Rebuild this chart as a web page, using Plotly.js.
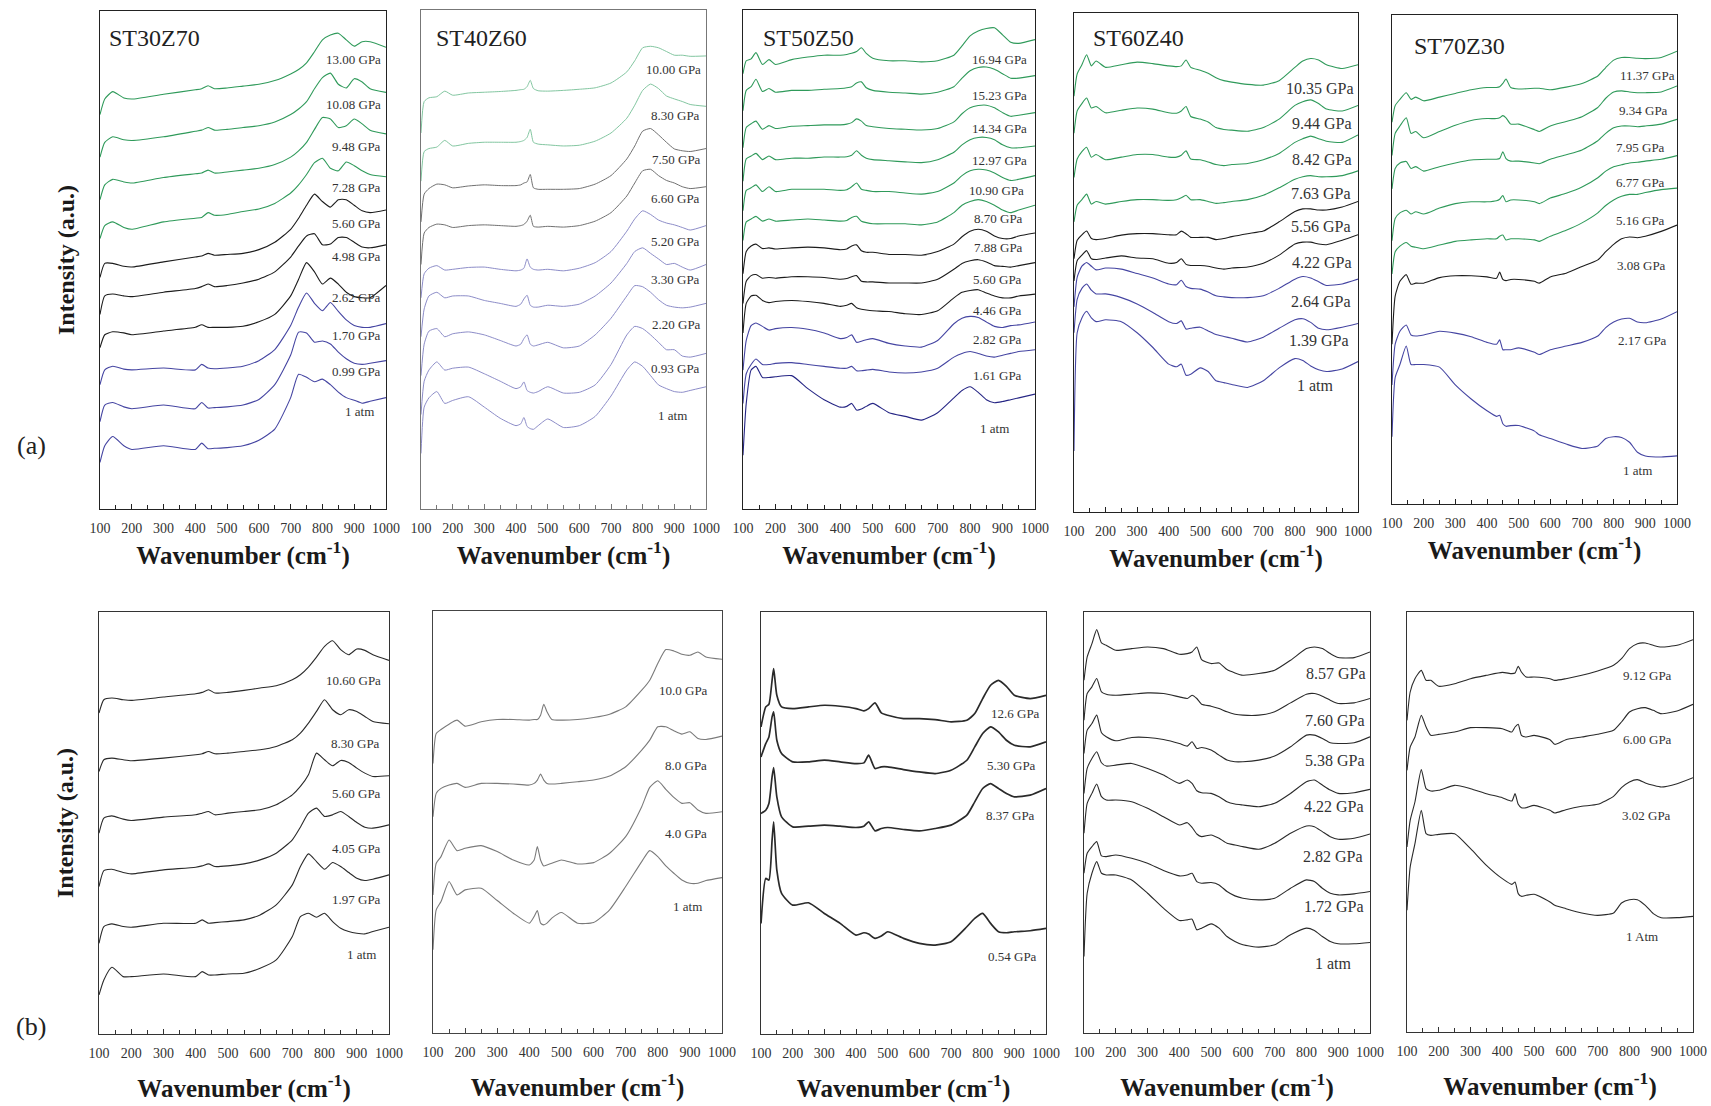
<!DOCTYPE html>
<html>
<head>
<meta charset="utf-8">
<script src="https://cdn.plot.ly/plotly-3.0.1.min.js"></script>
<style>html,body{margin:0;padding:0;background:#fff;}#chart{width:1711px;height:1106px;}</style>
</head>
<body>
<div id="chart"></div>
<script>
// ---------------- DATA (intensity in arbitrary units, stacked as in the figure) ----------------
// Row (a)
const samples = ['ST30Z70', 'ST40Z60', 'ST50Z50', 'ST60Z40', 'ST70Z30'];

const wnA1 = [100,115,140,175,200,300,400,420,440,460,500,550,600,650,700,725,750,775,800,825,850,875,900,925,950,1000];
const labelsA1 = ['13.00 GPa','10.08 GPa','9.48 GPa','7.28 GPa','5.60 GPa','4.98 GPa','2.62 GPa','1.70 GPa','0.99 GPa','1 atm'];
const seriesA1 = [
 [1066,1108,1128,1111,1108,1121,1133,1136,1144,1136,1138,1143,1148,1158,1176,1188,1206,1236,1268,1281,1286,1268,1251,1263,1263,1248],
 [951,991,1006,998,996,1006,1021,1024,1031,1024,1026,1031,1036,1046,1066,1081,1101,1136,1166,1178,1148,1138,1163,1154,1136,1126],
 [836,876,891,884,881,896,906,908,916,908,911,916,921,931,951,968,991,1026,1058,1054,1031,1036,1054,1041,1024,1014],
 [731,766,776,761,756,776,786,788,801,794,796,804,811,826,854,876,904,936,948,921,914,938,928,914,904,898],
 [626,664,664,656,654,668,681,684,691,686,688,691,701,721,756,786,821,851,831,816,836,836,821,806,801,808],
 [526,576,581,576,574,586,596,601,608,601,604,611,621,641,681,711,738,744,714,716,734,734,721,708,706,714],
 [436,471,479,476,471,481,491,498,491,491,491,494,506,526,576,621,666,641,608,624,608,586,574,571,571,604],
 [336,376,386,378,376,381,376,391,381,379,381,386,401,431,496,546,584,556,536,558,534,511,496,491,491,501],
 [236,281,288,276,271,281,271,288,273,274,276,281,296,336,416,478,476,451,454,446,424,406,394,391,394,401],
 [126,171,196,171,161,171,161,178,163,164,166,171,186,216,301,364,356,344,351,336,316,301,294,286,291,301]
];
const labelPosA1 = [990,990,990,990,990,990,990,990,990,967];
const labelValA1 = [1216,1094,981,869,773,683,573,468,371,264];
const colorsA1 = ['g','g','g','g','k','k','k','b','b','b'];

const wnA2 = [100,110,125,150,175,200,250,300,350,400,415,425,435,445,455,470,500,550,600,650,700,750,775,800,825,850,875,900,925,950,1000];
const labelsA2 = ['10.00 GPa','8.30 GPa','7.50 GPa','6.60 GPa','5.20 GPa','3.30 GPa','2.20 GPa','0.93 GPa','1 atm'];
const seriesA2 = [
 [1015,1100,1110,1113,1128,1117,1123,1125,1127,1130,1132,1133,1140,1157,1135,1129,1128,1130,1133,1137,1150,1180,1210,1245,1249,1245,1235,1225,1225,1222,1223],
 [885,965,973,977,995,980,987,990,990,990,992,995,1003,1025,990,985,983,980,982,993,1015,1055,1090,1130,1147,1135,1115,1107,1100,1092,1087],
 [775,850,865,877,875,867,872,875,873,873,875,880,883,903,867,863,863,863,865,877,900,945,980,1020,1027,1010,990,972,967,965,973],
 [660,745,760,769,767,760,765,767,765,763,765,768,777,793,763,761,763,761,765,777,800,845,880,913,917,900,887,880,870,865,870],
 [570,635,650,657,645,647,652,653,647,643,645,650,675,653,647,645,647,643,650,665,695,750,783,805,795,780,772,767,760,753,765],
 [465,540,575,585,570,575,575,563,555,547,553,567,577,550,545,545,550,547,553,575,610,663,695,705,690,675,660,663,653,645,660],
 [360,445,480,487,465,473,478,470,455,440,445,460,470,445,440,443,450,435,440,470,515,575,603,600,585,565,550,545,543,545,555],
 [255,345,375,397,375,380,383,365,345,325,330,343,320,315,313,317,330,313,315,335,390,470,493,487,470,450,430,430,413,410,420],
 [150,275,300,317,285,293,303,275,245,225,230,247,223,217,215,225,243,220,225,250,305,375,397,385,360,335,325,317,315,320,330]
];
const labelPosA2 = [992,986,992,986,986,986,992,986,947];
const labelValA2 = [1187,1062,943,837,723,620,498,380,253];
const colorsA2 = ['lg','lg','gr','gr','lb','lb','lb','lb','lb'];

const wnA3 = [100,110,125,140,160,180,200,250,300,350,400,420,435,450,465,480,500,550,600,650,700,750,775,800,825,850,875,900,925,950,1000];
const labelsA3 = ['16.94 GPa','15.23 GPa','14.34 GPa','12.97 GPa','10.90 GPa','8.70 GPa','7.88 GPa','5.60 GPa','4.46 GPa','2.82 GPa','1.61 GPa','1 atm'];
const seriesA3 = [
 [1175,1210,1215,1232,1200,1213,1200,1213,1220,1225,1225,1227,1230,1235,1245,1230,1217,1210,1210,1207,1210,1225,1250,1277,1290,1297,1299,1280,1260,1257,1267],
 [1075,1130,1140,1160,1127,1135,1125,1130,1130,1133,1135,1137,1140,1150,1153,1137,1130,1125,1123,1120,1125,1140,1163,1183,1192,1193,1187,1175,1163,1163,1170],
 [975,1030,1040,1047,1025,1035,1027,1033,1035,1037,1037,1039,1043,1053,1047,1035,1032,1027,1025,1023,1027,1045,1067,1083,1089,1090,1083,1070,1060,1063,1070],
 [885,945,953,960,943,953,943,947,947,950,950,951,955,967,955,947,943,940,937,935,943,963,983,997,1003,1003,997,983,975,975,980],
 [805,860,867,875,857,870,857,863,863,863,860,862,870,880,863,860,857,857,853,850,857,880,900,913,917,915,907,895,887,890,900],
 [725,775,783,790,777,783,777,780,783,780,777,779,787,790,777,773,770,770,770,767,775,800,820,830,835,830,820,807,800,807,820],
 [635,695,710,715,703,705,702,705,707,705,700,702,710,713,697,693,693,687,687,685,695,715,735,750,755,750,737,730,730,737,745],
 [555,615,630,633,623,625,623,627,627,625,620,622,627,630,615,613,613,610,610,610,620,647,663,670,673,667,657,655,653,657,665],
 [475,555,575,577,563,557,560,563,560,555,547,550,555,543,539,537,535,533,527,525,535,570,585,590,592,583,575,570,570,575,580],
 [375,455,495,502,493,483,487,490,485,475,460,463,470,450,453,457,460,447,440,437,455,500,515,520,517,505,493,490,495,497,505],
 [285,365,390,405,390,390,393,395,390,385,380,380,385,373,373,375,377,370,367,370,380,410,420,425,420,413,410,415,420,425,430],
 [145,285,375,385,355,355,357,360,325,295,275,277,285,267,270,277,285,260,250,240,260,300,320,330,315,295,287,290,295,300,310]
];
const labelPosA3 = [980,980,982,980,973,970,970,967,967,967,967,925];
const labelValA3 = [1213,1115,1027,940,860,785,705,620,537,457,360,217];
const colorsA3 = ['g','g','g','g','g','g','k','k','k','b','b','B'];

const wnA4 = [100,110,125,140,155,170,200,250,300,350,400,425,440,455,470,500,525,550,575,600,650,700,750,800,825,850,875,900,950,1000];
const labelsA4 = ['10.35 GPa','9.44 GPa','8.42 GPa','7.63 GPa','5.56 GPa','4.22 GPa','2.64 GPa','1.39 GPa','1 atm'];
const seriesA4 = [
 [1125,1185,1210,1237,1207,1220,1203,1210,1217,1213,1207,1205,1207,1223,1203,1195,1187,1175,1167,1163,1157,1155,1167,1203,1220,1227,1223,1210,1200,1210],
 [1025,1085,1105,1120,1093,1097,1080,1087,1093,1090,1080,1079,1085,1097,1070,1063,1055,1040,1035,1033,1030,1040,1063,1100,1110,1115,1105,1090,1085,1100],
 [905,955,975,987,960,967,953,960,967,967,960,960,965,977,955,953,947,940,937,940,943,953,970,1000,1010,1017,1010,1003,1000,1020],
 [785,830,845,860,833,840,833,840,845,845,843,845,850,857,845,845,840,835,837,840,845,857,877,900,907,910,907,907,910,923],
 [685,735,750,760,740,737,740,749,753,753,750,750,760,753,743,743,743,737,740,745,753,760,785,813,820,820,817,817,825,840],
 [625,680,695,707,685,683,687,693,687,685,673,675,685,670,667,667,665,660,657,660,663,673,695,725,730,730,725,723,735,750],
 [555,635,665,675,665,655,660,657,645,633,617,615,627,610,605,603,595,585,582,580,580,585,605,630,637,633,623,613,617,630],
 [485,575,605,617,600,590,590,580,563,540,515,510,517,495,497,500,490,480,475,470,460,473,497,520,523,513,497,493,500,510],
 [165,485,525,543,525,515,520,515,485,445,400,393,400,370,373,390,380,355,350,345,337,355,390,415,410,395,385,380,387,407]
];
const labelPosA4 = [994,987,987,984,984,987,984,977,931];
const labelValA4 = [1145,1050,955,862,773,675,570,465,342];
const colorsA4 = ['g','g','g','g','k','k','b','b','b'];

const wnA5 = [100,110,125,145,160,175,200,250,300,350,400,430,440,450,460,475,500,550,565,600,650,700,750,775,800,825,850,875,900,950,1000];
const labelsA5 = ['11.37 GPa','9.34 GPa','7.95 GPa','6.77 GPa','5.16 GPa','3.08 GPa','2.17 GPa','1 atm'];
const seriesA5 = [
 [1032,1077,1094,1112,1094,1100,1090,1100,1110,1120,1126,1126,1128,1137,1149,1126,1122,1124,1124,1120,1127,1137,1157,1180,1200,1207,1207,1205,1204,1207,1224],
 [942,1002,1022,1044,1002,1007,990,1007,1024,1037,1042,1042,1044,1050,1044,1027,1027,1012,1007,1022,1034,1047,1072,1097,1114,1117,1114,1112,1112,1114,1130],
 [852,907,922,926,907,912,900,912,922,930,932,932,934,952,934,927,927,922,920,932,944,957,982,1002,1017,1022,1022,1020,1022,1027,1040],
 [712,772,787,794,784,790,784,800,812,817,817,820,824,834,817,822,822,817,812,827,840,857,882,900,912,917,922,924,927,932,942],
 [622,682,697,707,697,694,690,700,710,714,717,717,724,727,714,717,717,714,710,724,740,760,787,807,822,832,837,837,842,850,854],
 [432,562,602,620,594,597,597,612,617,617,614,610,627,607,604,607,607,602,597,614,624,642,660,682,702,717,722,720,724,737,754],
 [322,432,467,484,457,454,457,467,462,452,437,432,444,417,417,417,422,410,404,417,427,437,454,477,492,500,502,492,490,500,520],
 [182,342,377,427,377,377,377,370,322,284,252,237,240,217,210,212,212,197,187,177,162,150,157,177,182,180,167,140,130,127,130]
];
const labelPosA5 = [999,977,968,968,968,970,974,926];
const labelValA5 = [1159,1065,964,870,767,645,442,90];
const colorsA5 = ['g','g','g','g','g','k','b','b'];

// Row (b)
const wnB1 = [100,115,140,175,200,300,400,420,440,460,500,550,600,650,700,725,750,775,800,825,850,875,900,925,950,1000];
const labelsB1 = ['10.60 GPa','8.30 GPa','5.60 GPa','4.05 GPa','1.97 GPa','1 atm'];
const seriesB1 = [
 [962,1002,1007,1002,1000,1010,1020,1024,1032,1022,1024,1030,1037,1044,1062,1077,1100,1130,1162,1179,1152,1137,1154,1150,1137,1120],
 [787,822,827,822,819,827,837,840,847,840,842,847,852,862,882,902,932,967,1002,972,957,972,967,952,937,930],
 [602,647,654,644,640,650,657,662,667,657,662,667,672,687,717,742,777,842,822,804,820,814,797,782,772,774],
 [442,490,494,484,480,492,500,504,510,502,504,510,522,542,582,620,662,677,652,657,667,652,634,620,617,627],
 [272,322,330,322,320,332,332,342,332,334,337,342,357,387,447,502,540,517,494,514,502,484,467,460,464,477],
 [117,162,200,172,172,180,172,187,177,177,180,182,197,222,292,352,362,350,362,337,317,307,302,300,307,320]
];
const labelPosB1 = [980,977,982,982,982,967];
const labelValB1 = [1060,872,720,557,404,237];

const wnB2 = [100,110,125,150,175,200,250,300,350,400,415,425,435,445,455,470,500,550,600,650,700,750,775,800,825,850,875,900,925,950,1000];
const labelsB2 = ['10.0 GPa','8.0 GPa','4.0 GPa','1 atm'];
const seriesB2 = [
 [810,900,912,928,940,922,935,942,942,940,942,942,955,988,965,942,940,942,948,958,980,1030,1060,1110,1152,1148,1138,1135,1145,1130,1123],
 [650,720,735,745,750,738,750,750,748,745,750,760,778,760,750,748,750,755,760,772,800,850,880,920,920,908,898,905,885,882,892],
 [415,510,530,580,548,555,563,545,520,505,520,560,520,502,505,510,520,508,512,540,590,680,738,758,732,708,690,692,670,660,665],
 [250,370,395,455,415,430,435,398,360,330,350,368,330,325,330,345,362,330,332,370,440,515,548,530,502,480,460,450,450,458,467]
];
const labelPosB2 = [962,958,958,945];
const labelValB2 = [1030,805,600,380];

const wnB3 = [100,115,125,135,140,150,165,200,250,300,350,400,425,440,460,480,500,550,600,650,700,750,775,800,825,850,875,900,950,1000];
const labelsB3 = ['12.6 GPa','5.30 GPa','8.37 GPa','0.54 GPa'];
const seriesB3 = [
 [922,982,990,1062,1097,1017,982,977,982,987,984,977,970,977,994,964,957,947,947,944,937,942,962,1007,1047,1062,1044,1017,1007,1017],
 [832,872,892,952,967,882,842,817,817,822,817,812,814,837,797,802,802,794,787,782,792,822,862,902,922,907,882,867,862,877],
 [662,672,692,772,800,712,652,622,624,627,624,620,624,637,610,617,620,614,610,617,627,657,697,737,752,737,722,712,717,737],
 [332,467,462,582,637,492,422,387,394,362,332,297,304,300,287,294,307,287,272,267,277,322,347,362,332,307,304,307,310,317]
];
const labelPosB3 = [986,976,973,979];
const labelValB3 = [962,807,657,234];

const wnB4 = [100,110,125,140,155,170,200,250,300,350,400,425,440,455,470,500,525,550,575,600,650,700,750,800,825,850,875,900,950,1000];
const labelsB4 = ['8.57 GPa','7.60 GPa','5.38 GPa','4.22 GPa','2.82 GPa','1.72 GPa','1 atm'];
const seriesB4 = [
 [1060,1130,1170,1212,1172,1165,1150,1155,1160,1155,1138,1140,1145,1160,1122,1110,1112,1092,1082,1075,1080,1090,1120,1155,1160,1155,1140,1128,1128,1145],
 [940,1020,1040,1065,1025,1018,1015,1018,1022,1020,1010,1005,1015,1005,988,982,975,965,958,955,955,965,992,1018,1020,1012,1000,990,992,1005],
 [840,910,930,955,902,890,878,888,888,882,870,862,875,855,858,850,835,820,815,815,820,832,860,895,895,885,872,870,872,890],
 [720,795,825,845,812,802,805,810,795,775,750,760,750,728,722,720,710,695,688,685,680,690,720,755,760,745,730,720,722,732],
 [600,690,720,748,710,700,700,695,675,650,625,632,618,598,590,595,585,570,565,560,552,570,600,622,620,605,590,582,585,598],
 [480,540,560,575,532,530,535,525,510,488,472,475,480,455,450,452,445,425,412,405,400,405,435,460,455,435,420,415,418,425],
 [230,420,480,515,480,475,475,460,420,375,338,340,342,310,315,328,315,290,275,265,258,265,295,315,308,290,275,268,268,272]
];
const labelPosB4 = [994,991,991,988,983,988,949];
const labelValB4 = [1080,940,818,680,530,380,210];

const wnB5 = [100,110,125,145,160,175,200,250,300,350,400,430,440,450,460,475,500,550,565,600,650,700,750,775,800,825,850,875,900,950,1000];
const labelsB5 = ['9.12 GPa','6.00 GPa','3.02 GPa','1 Atm'];
const seriesB5 = [
 [935,1020,1060,1085,1055,1055,1037,1045,1060,1070,1079,1075,1077,1097,1080,1065,1065,1060,1055,1060,1070,1083,1100,1120,1150,1165,1167,1160,1155,1160,1177],
 [785,855,885,950,915,890,893,900,913,913,910,900,915,923,890,885,890,877,863,877,885,893,905,930,960,970,973,965,955,963,983],
 [555,635,690,787,730,723,725,740,730,715,703,693,715,683,673,673,680,665,657,667,677,683,707,733,750,757,747,740,735,745,763],
 [365,495,565,665,595,590,593,595,550,500,460,443,450,415,407,410,413,390,380,370,357,350,357,387,397,397,380,355,343,343,347]
];
const labelPosB5 = [941,939,937,895];
const labelValB5 = [1070,878,650,287];

const xTickVals = [100,200,300,400,500,600,700,800,900,1000];

// ---------------- STYLE / LAYOUT ----------------
const W = 1711, H = 1106;
const palette = {g:'#2f9a5a', k:'#1c1c1c', b:'#4545a2', B:'#262685', lg:'#82c6a0', gr:'#707070', lb:'#8c8cc8', bk:'#2a2a2a', gy:'#7a7a7a'};
const SERIF = '"Liberation Serif", "Times New Roman", Times, serif';

// panel boxes in pixels: [left, right, top, bottom]
const boxes = [
 [100,386,11,509],[421,706,10,509],[743,1035,10,509],[1074,1358,13,512],[1392,1677,15,504],
 [99,389,612,1034],[433,722,611,1033],[761,1046,612,1034],[1084,1370,612,1033],[1407,1693,612,1032]
];
const yTop = [1346,1347,1347,1350,1322,1265,1268,1267,1265,1260];

const panels = [
 {wn:wnA1, s:seriesA1, lab:labelsA1, lx:labelPosA1, lv:labelValA1, col:colorsA1, fs:13, lw:1.1, frame:'#222'},
 {wn:wnA2, s:seriesA2, lab:labelsA2, lx:labelPosA2, lv:labelValA2, col:colorsA2, fs:13, lw:1.0, frame:'#777'},
 {wn:wnA3, s:seriesA3, lab:labelsA3, lx:labelPosA3, lv:labelValA3, col:colorsA3, fs:13, lw:1.1, frame:'#222'},
 {wn:wnA4, s:seriesA4, lab:labelsA4, lx:labelPosA4, lv:labelValA4, col:colorsA4, fs:16, lw:1.1, frame:'#222'},
 {wn:wnA5, s:seriesA5, lab:labelsA5, lx:labelPosA5, lv:labelValA5, col:colorsA5, fs:13, lw:1.1, frame:'#222'},
 {wn:wnB1, s:seriesB1, lab:labelsB1, lx:labelPosB1, lv:labelValB1, col:null, c:'bk', fs:13, lw:1.1, frame:'#333'},
 {wn:wnB2, s:seriesB2, lab:labelsB2, lx:labelPosB2, lv:labelValB2, col:null, c:'gy', fs:13, lw:1.1, frame:'#444'},
 {wn:wnB3, s:seriesB3, lab:labelsB3, lx:labelPosB3, lv:labelValB3, col:null, c:'bk', fs:13, lw:1.7, frame:'#333'},
 {wn:wnB4, s:seriesB4, lab:labelsB4, lx:labelPosB4, lv:labelValB4, col:null, c:'bk', fs:16, lw:1.1, frame:'#333'},
 {wn:wnB5, s:seriesB5, lab:labelsB5, lx:labelPosB5, lv:labelValB5, col:null, c:'bk', fs:13, lw:1.1, frame:'#333'}
];

const traces = [];
const layout = {
  width: W, height: H, margin:{l:0,r:0,t:0,b:0},
  paper_bgcolor:'#ffffff', plot_bgcolor:'#ffffff', showlegend:false,
  font:{family:SERIF, color:'#222'},
  annotations: []
};

panels.forEach((p, i) => {
  const n = i + 1;
  const xa = n === 1 ? 'x' : 'x' + n;
  const ya = n === 1 ? 'y' : 'y' + n;
  const b = boxes[i];
  const rowA = i < 5;
  p.s.forEach((vals, j) => {
    const ck = p.col ? p.col[j] : p.c;
    traces.push({
      type:'scatter', mode:'lines', x:p.wn, y:vals, xaxis:xa, yaxis:ya,
      name: samples[i % 5] + ' ' + p.lab[j],
      line:{color:palette[ck], width:p.lw, shape:'spline', smoothing:0.55},
      hoverinfo:'x+y+name'
    });
  });
  layout['xaxis' + (n === 1 ? '' : n)] = {
    domain:[b[0]/W, b[1]/W], anchor: ya, range:[100,1000],
    tickvals: xTickVals, ticks:'inside', ticklen:5, tickwidth:1, tickcolor:p.frame,
    minor:{dtick:50, tick0:100, ticks:'inside', ticklen:4, tickcolor:p.frame},
    showline:true, mirror:true, linecolor:p.frame, linewidth:1.3,
    showgrid:false, zeroline:false,
    tickfont:{family:SERIF, size:14, color:'#333'}, ticklabelstandoff:6,
    title:{text:'<b>Wavenumber (cm<sup>-1</sup>)</b>', font:{family:SERIF, size:25, color:'#1a1a1a'}, standoff: rowA ? 11 : 19},
    automargin:false
  };
  const yax = {
    domain:[1 - b[3]/H, 1 - b[2]/H], anchor: xa, range:[0, yTop[i]],
    showticklabels:false, ticks:'', showline:true, mirror:true, linecolor:p.frame, linewidth:1.3,
    showgrid:false, zeroline:false, automargin:false
  };
  if (i === 0 || i === 5) {
    yax.title = {text:'<b>Intensity (a.u.)</b>', font:{family:SERIF, size:24, color:'#1a1a1a'}, standoff:17};
  }
  layout['yaxis' + (n === 1 ? '' : n)] = yax;
  p.lab.forEach((t, j) => {
    layout.annotations.push({
      xref:xa, yref:ya, x:p.lx[j], y:p.lv[j], text:t, showarrow:false,
      xanchor:'right', yanchor:'middle', font:{family:SERIF, size:p.fs, color:'#333'}
    });
  });
});

// panel sample titles
const titlePos = [[107,38],[434,38],[761,38],[1091,38],[1412,46]];
samples.forEach((s, i) => {
  layout.annotations.push({
    xref:'paper', yref:'paper', x:titlePos[i][0]/W, y:1 - titlePos[i][1]/H, text:s,
    showarrow:false, xanchor:'left', yanchor:'middle', font:{family:SERIF, size:24, color:'#222'}
  });
});
// row markers
layout.annotations.push({xref:'paper', yref:'paper', x:31/W, y:1-445/H, text:'(a)', showarrow:false,
  xanchor:'center', yanchor:'middle', font:{family:SERIF, size:26, color:'#222'}});
layout.annotations.push({xref:'paper', yref:'paper', x:31/W, y:1-1026/H, text:'(b)', showarrow:false,
  xanchor:'center', yanchor:'middle', font:{family:SERIF, size:26, color:'#222'}});

Plotly.newPlot('chart', traces, layout, {staticPlot:true, displayModeBar:false});
</script>
</body>
</html>
